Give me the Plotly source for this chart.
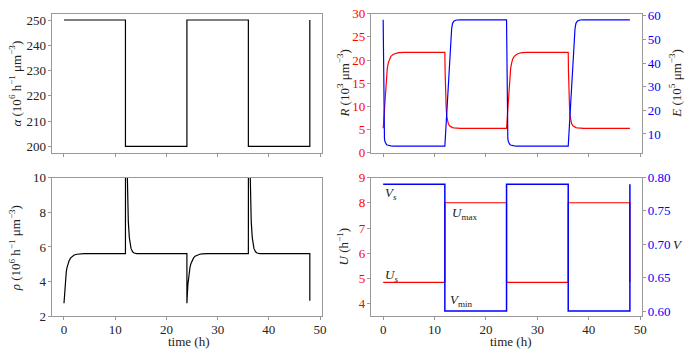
import plotly.graph_objects as go

W, H = 687, 356

# ---------------- data ----------------
t_step = [0, 12, 12, 24, 24, 36, 36, 48, 48]
alpha = [250, 250, 200, 200, 250, 250, 200, 200, 250]
U_vals = [4.85, 4.85, 8.0, 8.0, 4.85, 4.85, 8.0, 8.0, 4.85]
V_vals = [0.79, 0.79, 0.60, 0.60, 0.79, 0.79, 0.60, 0.60, 0.79]

t_rho = [0, 0.1, 0.2, 0.3, 0.45, 0.6, 0.8, 1.0, 1.3, 1.6, 2.0, 2.5, 3.0, 4.0,
         12, 12.02, 12.1, 12.17, 12.3, 12.43, 12.56, 12.76, 12.95, 13.1, 13.4, 13.7, 14.2, 15.0,
         24, 24, 24.1, 24.2, 24.3, 24.45, 24.6, 24.8, 25.0, 25.3, 25.6, 26.0, 26.5, 27.0, 28.0,
         36, 36.02, 36.1, 36.17, 36.3, 36.43, 36.56, 36.76, 36.95, 37.1, 37.4, 37.7, 38.2, 39.0,
         48, 48]
rho = [2.76, 3.35, 3.85, 4.22, 4.58, 4.82, 5.05, 5.2, 5.37, 5.47, 5.54, 5.58, 5.6, 5.61,
       5.61, 17.0, 14.5, 12.8, 10.0, 8.38, 7.46, 6.54, 6.1, 5.9, 5.72, 5.65, 5.62, 5.61,
       5.61, 2.76, 3.35, 3.85, 4.22, 4.58, 4.82, 5.05, 5.2, 5.37, 5.47, 5.54, 5.58, 5.6, 5.61,
       5.61, 17.0, 14.5, 12.8, 10.0, 8.38, 7.46, 6.54, 6.1, 5.9, 5.72, 5.65, 5.62, 5.61,
       5.61, 2.9]

t_RE = [0, 0.04, 0.08, 0.12, 0.18, 0.25, 0.35, 0.5, 0.65, 0.8, 1.0, 1.2, 1.5, 2.0, 2.5, 3.0, 4.0,
        12, 12.05, 12.1, 12.16, 12.25, 12.36, 12.5, 12.68, 12.9, 13.1, 13.32, 13.5, 13.8, 14.3, 15.0,
        24, 24.04, 24.08, 24.12, 24.18, 24.25, 24.35, 24.5, 24.65, 24.8, 25.0, 25.2, 25.5, 26.0, 26.5, 27.0, 28.0,
        36, 36.05, 36.1, 36.16, 36.25, 36.36, 36.5, 36.68, 36.9, 37.1, 37.32, 37.5, 37.8, 38.3, 39.0,
        48]
R_vals = [5.25, 5.5, 6.2, 7.2, 8.3, 9.9, 11.8, 14.6, 16.8, 18.2, 19.4, 20.2, 20.8, 21.25, 21.45, 21.58, 21.65,
          21.65, 17.5, 14.5, 12.1, 10.0, 7.9, 6.9, 6.2, 5.8, 5.6, 5.46, 5.4, 5.33, 5.28, 5.25,
          5.25, 5.5, 6.2, 7.2, 8.3, 9.9, 11.8, 14.6, 16.8, 18.2, 19.4, 20.2, 20.8, 21.25, 21.45, 21.58, 21.65,
          21.65, 17.5, 14.5, 12.1, 10.0, 7.9, 6.9, 6.2, 5.8, 5.6, 5.46, 5.4, 5.33, 5.28, 5.25,
          5.25]
E_vals = [58.3, 40, 25, 15, 10, 8, 6.8, 5.9, 5.55, 5.35, 5.15, 5.05, 4.97, 4.9, 4.87, 4.86, 4.85,
          4.85, 6.8, 8.5, 11, 14.5, 18.8, 24.5, 31.5, 40, 47.5, 54.5, 56.8, 57.8, 58.2, 58.3,
          58.3, 40, 25, 15, 10, 8, 6.8, 5.9, 5.55, 5.35, 5.15, 5.05, 4.97, 4.9, 4.87, 4.86, 4.85,
          4.85, 6.8, 8.5, 11, 14.5, 18.8, 24.5, 31.5, 40, 47.5, 54.5, 56.8, 57.8, 58.2, 58.3,
          58.3]

x_ticks = [0, 10, 20, 30, 40, 50]
alpha_ticks = [200, 210, 220, 230, 240, 250]
rho_ticks = [2, 4, 6, 8, 10]
R_ticks = [0, 5, 10, 15, 20, 25, 30]
E_ticks = [10, 20, 30, 40, 50, 60]
U_ticks = [4, 5, 6, 7, 8, 9]
V_ticks = [0.60, 0.65, 0.70, 0.75, 0.80]

# ---------------- style ----------------
FONT = "Liberation Serif"
FS = 13
SPINE = "#999999"
TXT = "#222222"
RED = "#ff0000"
BLUE = "#0000ff"

def px(x):
    return x / W

def py(y):
    return 1 - y / H

dom_xl = [px(52), px(324)]
dom_xr = [px(373), px(646)]
dom_yt = [py(152), py(7)]
dom_yb = [py(323), py(178)]

fig = go.Figure()
fig.add_trace(go.Scatter(x=t_step, y=alpha, mode="lines", line=dict(color="#000000", width=1.2),
                         xaxis="x", yaxis="y", showlegend=False))
fig.add_trace(go.Scatter(x=t_RE, y=R_vals, mode="lines", line=dict(color=RED, width=1.2),
                         xaxis="x2", yaxis="y2", showlegend=False))
fig.add_trace(go.Scatter(x=t_RE, y=E_vals, mode="lines", line=dict(color=BLUE, width=1.2),
                         xaxis="x2", yaxis="y3", showlegend=False))
fig.add_trace(go.Scatter(x=t_rho, y=rho, mode="lines", line=dict(color="#000000", width=1.2),
                         xaxis="x3", yaxis="y4", showlegend=False))
fig.add_trace(go.Scatter(x=t_step, y=U_vals, mode="lines", line=dict(color=RED, width=1.2),
                         xaxis="x4", yaxis="y5", showlegend=False))
fig.add_trace(go.Scatter(x=t_step, y=V_vals, mode="lines", line=dict(color=BLUE, width=1.5),
                         xaxis="x4", yaxis="y6", showlegend=False))

def xax(domain, anchor, labels):
    return dict(domain=domain, anchor=anchor, range=[-2.4, 50.4], tickvals=x_ticks,
                showticklabels=labels, ticks="outside", ticklen=3, tickcolor=SPINE,
                showline=True, linecolor=SPINE, linewidth=1, mirror=True,
                showgrid=False, zeroline=False, ticklabelstandoff=-2,
                tickfont=dict(family=FONT, size=FS, color=TXT))

def yax(domain, anchor, rng, ticks, color, side="left", mirror=False, overlaying=None, fmt=None):
    d = dict(domain=domain, anchor=anchor, range=rng, tickvals=ticks, side=side,
             ticks="outside", ticklen=3, tickcolor=SPINE,
             showline=True, linecolor=SPINE, linewidth=1, mirror=mirror,
             showgrid=False, zeroline=False, ticklabelstandoff=-1,
             tickfont=dict(family=FONT, size=FS, color=color))
    if overlaying:
        d["overlaying"] = overlaying
    if fmt:
        d["tickformat"] = fmt
    return d

fig.update_layout(
    width=W, height=H, margin=dict(l=0, r=0, t=0, b=0),
    paper_bgcolor="white", plot_bgcolor="white",
    xaxis=xax(dom_xl, "y", False),
    yaxis=yax(dom_yt, "x", [197.5, 252.5], alpha_ticks, TXT, mirror=True),
    xaxis2=xax(dom_xr, "y2", False),
    yaxis2=yax(dom_yt, "x2", [0, 30], R_ticks, RED),
    yaxis3=yax(dom_yt, "x2", [2.13, 60.87], E_ticks, BLUE, side="right", overlaying="y2"),
    xaxis3=xax(dom_xl, "y4", True),
    yaxis4=yax(dom_yb, "x3", [2, 10], rho_ticks, TXT, mirror=True),
    xaxis4=xax(dom_xr, "y5", True),
    yaxis5=yax(dom_yb, "x4", [3.5, 9], U_ticks, RED),
    yaxis6=yax(dom_yb, "x4", [0.592, 0.80], V_ticks, BLUE, side="right", overlaying="y5", fmt=".2f"),
)

def ann(text, x, y, angle=0, xanchor="center", size=FS, color=TXT):
    fig.add_annotation(text=text, x=px(x), y=py(y), xref="paper", yref="paper",
                       showarrow=False, textangle=angle, xanchor=xanchor, yanchor="middle",
                       font=dict(family=FONT, size=size, color=color))

unit = "(10<sup>6</sup> h<sup>\u22121</sup> \u03bcm<sup>\u22123</sup>)"
ann("<i>\u03b1</i> " + unit, 15, 80, angle=-90)
ann("<i>\u03c1</i> " + unit, 15, 252, angle=-90)
ann("<i>R</i> (10<sup>3</sup> \u03bcm<sup>\u22123</sup>)", 345, 80, angle=-90)
ann("<i>E</i> (10<sup>5</sup> \u03bcm<sup>\u22123</sup>)", 679, 80, angle=-90)
ann("<i>U</i> (h<sup>\u22121</sup>)", 345, 250, angle=-90)
ann("<i>V</i>", 682, 248)
ann("time (h)", 190, 349)
ann("time (h)", 514, 349)
ann("<i>V<sub>s</sub></i>", 385, 195, xanchor="left")
ann("<i>U</i><sub>max</sub>", 453, 216, xanchor="left")
ann("<i>U<sub>s</sub></i>", 385, 280, xanchor="left")
ann("<i>V</i><sub>min</sub>", 451, 306, xanchor="left")

fig.write_html("out.html", config={"displayModeBar": False},
               post_script="document.body.style.margin='0';document.body.style.overflow='hidden';")
